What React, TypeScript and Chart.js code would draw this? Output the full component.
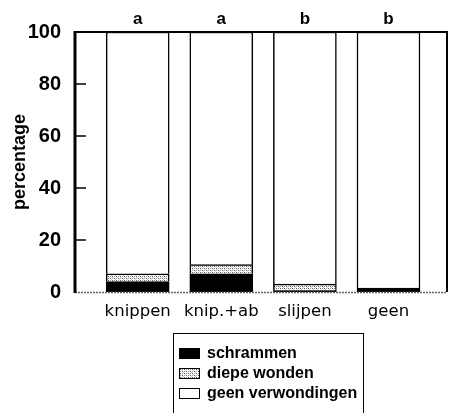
import React, { useEffect, useRef } from "react";
import { Chart, registerables } from "chart.js";

Chart.register(...registerables);

const categories = ["knippen", "knip.+ab", "slijpen", "geen"];
const sigLetters = ["a", "a", "b", "b"];
const schrammen = [4, 7, 0.5, 1.5];
const diepeWonden = [3, 3.5, 2.5, 0];
const geenVerwondingen = [93, 89.5, 97, 98.5];
const seriesNames = ["schrammen", "diepe wonden", "geen verwondingen"];
const yTicks = [0, 20, 40, 60, 80, 100];

const BOLDFONT = '"Liberation Sans", Arial, sans-serif';

function makePatternCanvas(): HTMLCanvasElement {
  const c = document.createElement("canvas");
  c.width = 4;
  c.height = 4;
  const g = c.getContext("2d")!;
  g.fillStyle = "#ffffff";
  g.fillRect(0, 0, 4, 4);
  g.fillStyle = "#555555";
  g.fillRect(0, 0, 1, 1);
  g.fillRect(2, 2, 1, 1);
  g.fillStyle = "#999999";
  g.fillRect(2, 0, 1, 1);
  g.fillRect(0, 2, 1, 1);
  g.fillStyle = "#cccccc";
  g.fillRect(1, 1, 1, 1);
  g.fillRect(3, 3, 1, 1);
  return c;
}

export default function App() {
  const ref = useRef<HTMLCanvasElement | null>(null);
  const patCanvas = useRef<HTMLCanvasElement | null>(null);
  if (!patCanvas.current && typeof document !== "undefined") {
    patCanvas.current = makePatternCanvas();
  }

  useEffect(() => {
    const canvas = ref.current!;
    const ctx = canvas.getContext("2d")!;
    const pattern = ctx.createPattern(patCanvas.current!, "repeat")!;

    const pts = (arr: number[]) => arr.map((v, i) => ({ x: i + 1, y: v }));

    const decor = {
      id: "decor",
      afterDatasetsDraw(chart: any) {
        const { ctx: c, chartArea: a, scales } = chart;
        const ys = scales.y;
        const xs = scales.x;
        c.save();
        c.strokeStyle = "#000";
        c.lineWidth = 1.5;
        yTicks.forEach((t) => {
          if (t === 0 || t === 100) return;
          const y = ys.getPixelForValue(t);
          c.beginPath();
          c.moveTo(a.left, y);
          c.lineTo(a.left + 11, y);
          c.stroke();
        });
        c.strokeStyle = "#666";
        c.lineWidth = 1.5;
        c.setLineDash([2, 1]);
        c.beginPath();
        c.moveTo(a.left, a.bottom + 0.5);
        c.lineTo(a.right, a.bottom + 0.5);
        c.stroke();
        c.setLineDash([]);
        c.strokeStyle = "#000";
        c.lineWidth = 2;
        c.beginPath();
        c.moveTo(a.left, a.top);
        c.lineTo(a.right, a.top);
        c.lineTo(a.right, a.bottom);
        c.stroke();
        c.lineWidth = 3;
        c.beginPath();
        c.moveTo(a.left, a.top - 1);
        c.lineTo(a.left, a.bottom + 1);
        c.stroke();
        c.fillStyle = "#000";
        c.font = `bold 17px ${BOLDFONT}`;
        c.textAlign = "center";
        c.textBaseline = "alphabetic";
        sigLetters.forEach((l, i) => {
          c.fillText(l, xs.getPixelForValue(i + 1), a.top - 8);
        });
        c.restore();
      },
    };

    const chart = new Chart(ctx, {
      type: "bar",
      data: {
        datasets: [
          { label: seriesNames[0], data: pts(schrammen), backgroundColor: "#000", borderColor: "#000", borderWidth: 1.5 },
          { label: seriesNames[1], data: pts(diepeWonden), backgroundColor: pattern as any, borderColor: "#000", borderWidth: 1.5 },
          { label: seriesNames[2], data: pts(geenVerwondingen), backgroundColor: "#fff", borderColor: "#000", borderWidth: 1.5 },
        ],
      },
      options: {
        animation: false,
        responsive: false,
        maintainAspectRatio: false,
        barThickness: 63,
        layout: { padding: { top: 32, right: 4, bottom: 91, left: 0 } },
        plugins: { legend: { display: false }, tooltip: { enabled: false } },
        scales: {
          x: {
            type: "linear",
            stacked: true,
            offset: false,
            min: 0.25,
            max: 4.7,
            grid: { display: false, offset: false },
            border: { display: false },
            afterBuildTicks: (s: any) => {
              s.ticks = categories.map((_, i) => ({ value: i + 1 }));
            },
            afterFit: (s: any) => {
              s.height = 30;
            },
            ticks: {
              autoSkip: false,
              maxRotation: 0,
              padding: 2,
              color: "#000",
              font: { family: '"DejaVu Sans", sans-serif', size: 16.5 },
              callback: (v: any) => categories[Math.round(Number(v)) - 1] ?? "",
            },
          },
          y: {
            stacked: true,
            min: 0,
            max: 100,
            grid: { display: false },
            border: { display: false },
            afterBuildTicks: (s: any) => {
              s.ticks = yTicks.map((v) => ({ value: v }));
            },
            afterFit: (s: any) => {
              s.width = 75;
            },
            ticks: {
              padding: 6,
              color: "#000",
              font: { family: BOLDFONT, size: 20, weight: "bold" },
            },
            title: {
              display: true,
              text: "percentage",
              color: "#000",
              padding: { top: 9, bottom: 0 },
              font: { family: BOLDFONT, size: 18, weight: "bold" },
            },
          },
        },
      } as any,
      plugins: [decor],
    });
    return () => chart.destroy();
  }, []);

  const patUrl = patCanvas.current ? patCanvas.current.toDataURL() : "";
  const swatches = [
    { background: "#000" },
    { backgroundImage: `url(${patUrl})`, backgroundRepeat: "repeat" },
    { background: "#fff" },
  ];

  return (
    <div style={{ position: "absolute", left: 0, top: 0, width: 451, height: 413, background: "#fff", overflow: "hidden" }}>
      <canvas ref={ref} width={451} height={413} style={{ position: "absolute", left: 0, top: 0, width: 451, height: 413 }} />
      <div
        style={{
          position: "absolute",
          left: 173,
          top: 333,
          width: 191,
          height: 100,
          border: "1.5px solid #000",
          boxSizing: "border-box",
          fontFamily: BOLDFONT,
          fontWeight: 700,
          fontSize: 16,
          color: "#000",
        }}
      >
        {seriesNames.map((n, i) => (
          <div key={n} style={{ position: "absolute", left: 5, top: 9 + i * 20, height: 20, display: "flex", alignItems: "center", whiteSpace: "nowrap" }}>
            <span style={{ display: "inline-block", width: 21, height: 11, border: "1.5px solid #000", boxSizing: "border-box", marginRight: 7, ...swatches[i] }} />
            <span style={{ fontWeight: 700 }}>{n}</span>
          </div>
        ))}
      </div>
    </div>
  );
}
